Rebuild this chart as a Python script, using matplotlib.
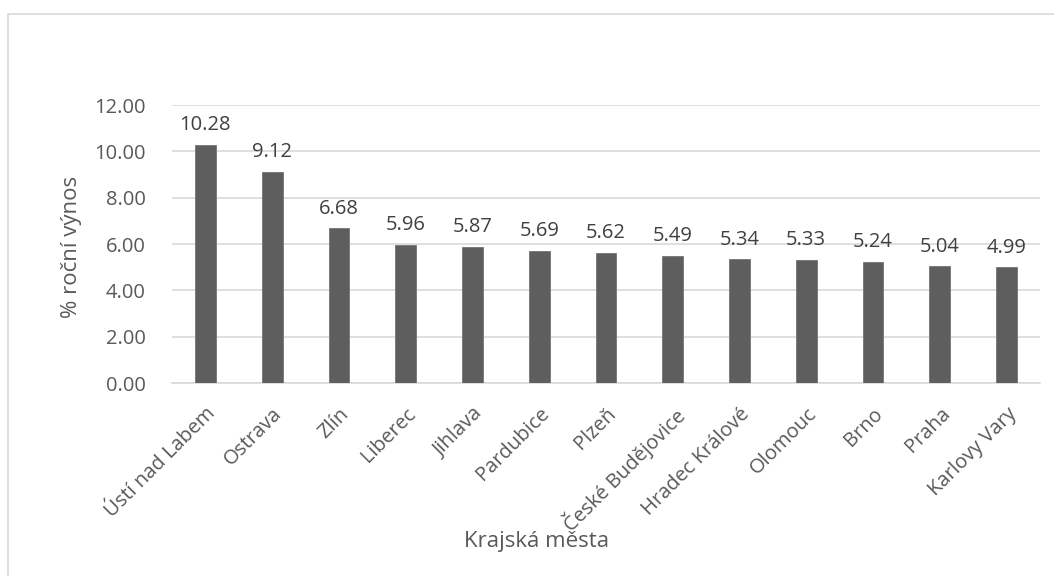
import matplotlib.pyplot as plt
import matplotlib.patches as patches
import numpy as np

cities = ["Ústí nad Labem", "Ostrava", "Zlín", "Liberec", "Jihlava", "Pardubice",
          "Plzeň", "České Budějovice", "Hradec Králové", "Olomouc", "Brno",
          "Praha", "Karlovy Vary"]
yields = [10.28, 9.12, 6.68, 5.96, 5.87, 5.69, 5.62, 5.49, 5.34, 5.33, 5.24, 5.04, 4.99]
y_ticks = [0, 2, 4, 6, 8, 10, 12]

TEXT = "#595959"
BAR = "#5e5e5e"
GRID = "#d9d9d9"

plt.rcParams["font.family"] = ["Open Sans", "DejaVu Sans"]

fig = plt.figure(figsize=(10.54, 5.76), dpi=100)
ax = fig.add_axes([0.1632, 0.335, 0.8235, 0.4827])

x = np.arange(len(cities))
bars = ax.bar(x, yields, width=0.31, color=BAR, edgecolor="#737373", linewidth=0.6, zorder=3)

# value labels above each bar
for xi, v in zip(x, yields):
    ax.annotate("%.2f" % v, (xi, v), xytext=(0, 7), textcoords="offset points",
                ha="center", va="bottom", fontsize=14.5, color="#404040")

ax.set_xlim(-0.5, len(cities) - 0.5)
ax.set_ylim(0, 12)
ax.set_yticks(y_ticks)
ax.set_yticklabels(["%.2f" % t for t in y_ticks])
ax.yaxis.grid(True, color=GRID, linewidth=1.2, zorder=0)
ax.set_xticks(x)
ax.set_xticklabels(cities, rotation=45, ha="right", rotation_mode="anchor")
ax.tick_params(axis="both", length=0, labelsize=14.5, labelcolor=TEXT)
ax.tick_params(axis="x", pad=15)
ax.tick_params(axis="y", pad=19)
for s in ["top", "right", "left"]:
    ax.spines[s].set_visible(False)
ax.spines["bottom"].set_color(GRID)
ax.spines["bottom"].set_linewidth(1.2)

fig.text(537 / 1054, 1 - 541 / 576, "Krajská města", ha="center", va="center",
         fontsize=16, color=TEXT)
fig.text(72 / 1054, 1 - 247 / 576, "% roční výnos", ha="center", va="center",
         rotation=90, fontsize=16, color=TEXT)

# chart area border
fig.patches.append(patches.Rectangle((8 / 1054, -0.1), 1.2, 1 - 14 / 576 + 0.1,
                                     transform=fig.transFigure, fill=False,
                                     edgecolor=GRID, linewidth=1.2))

fig.savefig("out.png", dpi=100)
